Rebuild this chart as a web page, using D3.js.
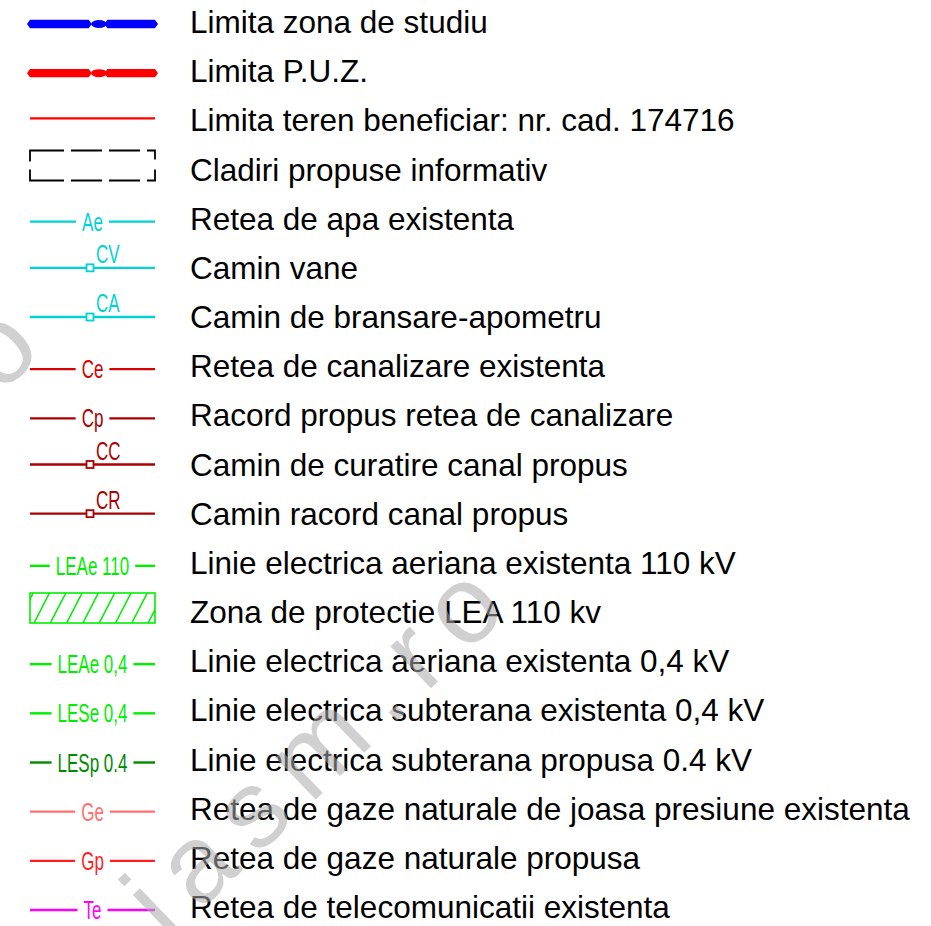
<!DOCTYPE html>
<html lang="ro">
<head>
<meta charset="utf-8">
<title>Legenda</title>
<script src="https://cdnjs.cloudflare.com/ajax/libs/d3/7.8.5/d3.min.js"></script>
<style>
  body { margin: 0; background: #fff; }
  svg { display: block; }
  .lbl { font-family: "Liberation Sans", Arial, sans-serif; font-size: 31.5px; fill: #000; }
  .code { font-family: "Liberation Sans", Arial, sans-serif; font-size: 25px; }
  .wm { font-family: "Liberation Sans", Arial, sans-serif; font-size: 110px; fill: #aaa; opacity: 0.55; }
</style>
</head>
<body>
<script>
// legend entries, top to bottom
var labels = [
  "Limita zona de studiu",
  "Limita P.U.Z.",
  "Limita teren beneficiar: nr. cad. 174716",
  "Cladiri propuse informativ",
  "Retea de apa existenta",
  "Camin vane",
  "Camin de bransare-apometru",
  "Retea de canalizare existenta",
  "Racord propus retea de canalizare",
  "Camin de curatire canal propus",
  "Camin racord canal propus",
  "Linie electrica aeriana existenta 110 kV",
  "Zona de protectie LEA 110 kv",
  "Linie electrica aeriana existenta 0,4 kV",
  "Linie electrica subterana existenta 0,4 kV",
  "Linie electrica subterana propusa 0.4 kV",
  "Retea de gaze naturale de joasa presiune existenta",
  "Retea de gaze naturale propusa",
  "Retea de telecomunicatii existenta"
];
var codes = ["", "", "", "", "Ae", "CV", "CA", "Ce", "Cp", "CC", "CR",
             "LEAe 110", "", "LEAe 0,4", "LESe 0,4", "LESp 0.4", "Ge", "Gp", "Te"];
var kinds = ["limit", "limit", "line", "box", "coded", "chamber", "chamber", "coded", "coded",
             "chamber", "chamber", "coded", "hatch", "coded", "coded", "coded", "coded", "coded", "coded"];
var colours = ["#0000ff", "#ff0000", "#ff0000", "#000000", "#00d2d2", "#00d2d2", "#00d2d2",
               "#d80000", "#aa0000", "#aa0000", "#aa0000", "#00ee00", "#00ee00", "#00ee00",
               "#00ee00", "#008a00", "#ff7070", "#ff1e1e", "#ff00ff"];

var width = 931, height = 926;
var svg = d3.select("body").append("svg").attr("width", width).attr("height", height);

var yRow = d3.scalePoint().domain(d3.range(labels.length)).range([33, 918]); // text baselines
var sx = d3.scaleLinear().domain([0, 1]).range([30, 155]);                  // symbol column
var narrow = 0.68;

// right column texts
svg.selectAll(".lbl")
  .data(labels)
  .enter()
  .append("text")
  .attr("class", "lbl")
  .attr("x", 190)
  .attr("y", function(d, i) { return yRow(i); })
  .text(function(d) { return d; });

var defs = svg.append("defs");

labels.forEach(function(l, i) {
  var g = svg.append("g");
  var c = colours[i];
  var y = yRow(i) - 9;
  var k = kinds[i];

  if (k == "limit") {
    // thick border line with a pinched node
    var a = sx(0), b = sx(0.47), m1 = sx(0.485), m2 = sx(0.595), e = sx(1);
    var h = 4.2;
    var seg = function(x0, x1) {
      return "M" + (x0 - 3) + "," + y + " L" + x0 + "," + (y - h) + " L" + x1 + "," + (y - h) +
             " L" + (x1 + 3) + "," + y + " L" + x1 + "," + (y + h) + " L" + x0 + "," + (y + h) + " Z";
    };
    g.append("path").attr("d", seg(a, b)).attr("fill", c);
    g.append("path").attr("d", seg(m2 + 3, e)).attr("fill", c);
    g.append("ellipse").attr("cx", (m1 + m2) / 2 + 1.5).attr("cy", y)
      .attr("rx", (m2 - m1) / 2 + 1).attr("ry", 4).attr("fill", c);
  }
  else if (k == "line") {
    g.append("line").attr("x1", sx(0)).attr("x2", sx(1)).attr("y1", y - 4).attr("y2", y - 4)
      .attr("stroke", c).attr("stroke-width", 2.2);
  }
  else if (k == "box") {
    var t = y - 21, btm = y + 9;
    g.append("path")
      .attr("d", "M" + sx(0) + "," + (t + 11) + " V" + t + " H" + sx(1) + " V" + btm + " H" + sx(0) + " Z")
      .attr("fill", "none").attr("stroke", c).attr("stroke-width", 1.8)
      .attr("stroke-dasharray", "45 7 31 7 31 7 17 10 19 7 31 7 31 7 45 8");
  }
  else if (k == "hatch") {
    var ht = y - 21, hb = y + 9;
    var cid = "clip" + i;
    defs.append("clipPath").attr("id", cid).append("rect")
      .attr("x", sx(0)).attr("y", ht).attr("width", sx(1) - sx(0)).attr("height", hb - ht);
    var hg = g.append("g").attr("clip-path", "url(#" + cid + ")");
    hg.selectAll("line")
      .data(d3.range(-1, 9))
      .enter()
      .append("line")
      .attr("x1", function(d) { return sx(0) + 4 + d * 16.3; })
      .attr("y1", hb)
      .attr("x2", function(d) { return sx(0) + 4 + d * 16.3 + 15.5; })
      .attr("y2", ht)
      .attr("stroke", c).attr("stroke-width", 1.6);
    g.append("rect")
      .attr("x", sx(0)).attr("y", ht).attr("width", sx(1) - sx(0)).attr("height", hb - ht)
      .attr("fill", "none").attr("stroke", c).attr("stroke-width", 1.6);
  }
  else if (k == "coded") {
    var cx = sx(0.5);
    var ly = y + 1;
    var txt = g.append("text").attr("class", "code").attr("fill", c)
      .attr("text-anchor", "middle")
      .attr("transform", "translate(" + cx + "," + (ly + 9) + ") scale(" + narrow + ",1)")
      .text(codes[i]);
    var w = txt.node().getComputedTextLength() * narrow;
    var gap = 6;
    g.append("line").attr("x1", sx(0)).attr("x2", cx - w / 2 - gap).attr("y1", ly).attr("y2", ly)
      .attr("stroke", c).attr("stroke-width", 2.4);
    g.append("line").attr("x1", cx + w / 2 + gap).attr("x2", sx(1)).attr("y1", ly).attr("y2", ly)
      .attr("stroke", c).attr("stroke-width", 2.4);
  }
  else if (k == "chamber") {
    var ly2 = y - 2, qx = sx(0.48);
    g.append("line").attr("x1", sx(0)).attr("x2", sx(1)).attr("y1", ly2).attr("y2", ly2)
      .attr("stroke", c).attr("stroke-width", 2.4);
    g.append("rect").attr("x", qx - 3.5).attr("y", ly2 - 3.5).attr("width", 7).attr("height", 7)
      .attr("fill", "#fff").attr("stroke", c).attr("stroke-width", 1.8);
    g.append("text").attr("class", "code").attr("fill", c)
      .attr("transform", "translate(" + (qx + 6) + "," + (ly2 - 5) + ") scale(" + narrow + ",1)")
      .text(codes[i]);
  }
});

// site watermark over the legend
svg.append("text").attr("class", "wm")
  .attr("transform", "translate(168,942) rotate(-44)")
  .style("letter-spacing", "19px")
  .text("iasm.ro");
svg.append("text").attr("class", "wm")
  .attr("transform", "translate(0,395) rotate(-44)")
  .text("o");
</script>
</body>
</html>
